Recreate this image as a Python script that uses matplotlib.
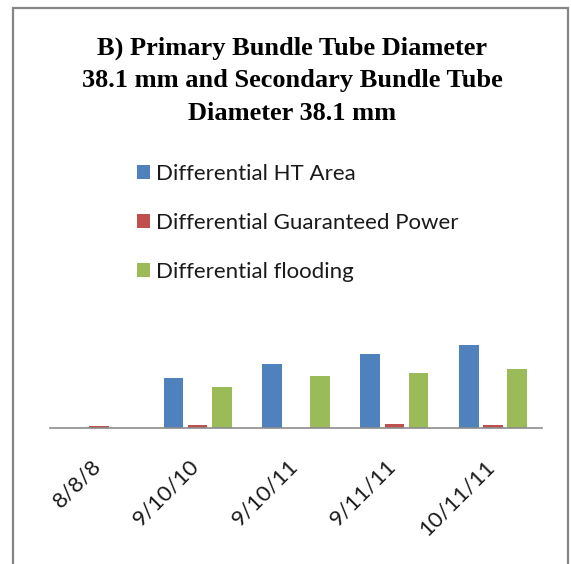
import matplotlib
matplotlib.use("Agg")
import matplotlib.pyplot as plt
import matplotlib.patches as mpatches
from matplotlib.transforms import ScaledTranslation
import numpy as np

# Tube-count configurations (primary/secondary/tertiary)
categories = ["8/8/8", "9/10/10", "9/10/11", "9/11/11", "10/11/11"]

# Differential values per configuration
ht_area = [0.0, 50.6, 64.6, 74.0, 83.6]
guaranteed_power = [2.0, 3.0, 0.0, 4.3, 3.0]
flooding = [0.0, 41.0, 52.0, 55.0, 59.0]

series_names = ["Differential HT Area",
                "Differential Guaranteed Power",
                "Differential flooding"]
series_colors = ["#4F81BD", "#C0504D", "#9BBB59"]

title_lines = ["B) Primary Bundle Tube Diameter",
               "38.1 mm and Secondary Bundle Tube",
               "Diameter 38.1 mm"]

W, H = 571, 564
fig = plt.figure(figsize=(W / 100, H / 100), dpi=100)
fig.patch.set_facecolor("white")

# chart border
frame = mpatches.Rectangle((13 / W, -0.1), (568 - 13) / W, (H - 8.5) / H + 0.1,
                           transform=fig.transFigure, fill=False,
                           edgecolor="#858585", linewidth=1.6)
fig.add_artist(frame)

# title, one line at a time
for text, base in zip(title_lines, [54.3, 87.3, 120.3]):
    fig.text(292 / W, 1 - base / H, text, ha="center", va="baseline",
             family="Liberation Serif", weight="bold", fontsize=19,
             color="black")

# plot area
ax_bottom = (H - 428.3) / H
ax = fig.add_axes([50 / W, ax_bottom, 492 / W, 130 / H])
x = np.arange(len(categories))
width = 0.2
offset = 0.245
bars = []
for i, (vals, color) in enumerate(zip([ht_area, guaranteed_power, flooding],
                                      series_colors)):
    b = ax.bar(x + (i - 1) * offset, vals, width, color=color,
               label=series_names[i])
    bars.append(b)

ax.set_xlim(-0.5, len(categories) - 0.5)
ax.set_ylim(0, 130)
for side in ["top", "right", "left"]:
    ax.spines[side].set_visible(False)
ax.spines["bottom"].set_color("#8c8c8c")
ax.spines["bottom"].set_linewidth(1.2)
ax.set_yticks([])
ax.set_xticks(x)
ax.set_xticklabels(categories, rotation=45, ha="right", va="top",
                   family="Lato", fontsize=16, color="#1a1a1a")
ax.tick_params(axis="x", length=0, pad=20)
for lbl in ax.get_xticklabels():
    lbl.set_transform(lbl.get_transform() +
                      ScaledTranslation(4 / 72, 0, fig.dpi_scale_trans))

leg = fig.legend(handles=bars, labels=series_names, loc="upper left",
                 bbox_to_anchor=(136.7 / W, 1 - 164 / H),
                 frameon=False, borderpad=0, borderaxespad=0,
                 handlelength=0.58, handleheight=0.58, handletextpad=0.28,
                 labelspacing=1.3,
                 prop={"family": "Lato", "size": 16})
for t in leg.get_texts():
    t.set_color("#1a1a1a")

fig.savefig("out.png", dpi=100)
